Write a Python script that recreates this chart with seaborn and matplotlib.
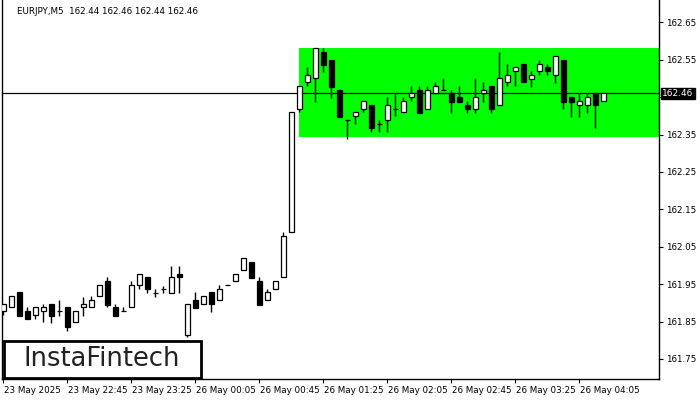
import numpy as np
import pandas as pd
import seaborn as sns
import matplotlib
matplotlib.use("Agg")
import matplotlib.pyplot as plt
from matplotlib.patches import Rectangle
import matplotlib.transforms as mtransforms

# ---------------- data ----------------
opens = [161.878, 161.888, 161.929, 161.879, 161.868, 161.878, 161.897, 161.878, 161.888, 161.848,
         161.888, 161.888, 161.918, 161.959, 161.888, 161.878, 161.888, 161.947, 161.968, 161.927,
         161.937, 161.927, 161.977, 161.815, 161.908, 161.896, 161.928, 161.907, 161.947, 161.958,
         161.988, 162.009, 161.959, 161.907, 161.937, 161.968, 162.089, 162.417, 162.490, 162.500,
         162.571, 162.549, 162.469, 162.388, 162.399, 162.417, 162.428, 162.377, 162.388, 162.417,
         162.409, 162.450, 162.469, 162.417, 162.460, 162.469, 162.460, 162.450, 162.428, 162.417,
         162.460, 162.480, 162.428, 162.490, 162.519, 162.539, 162.499, 162.519, 162.530, 162.508,
         162.549, 162.450, 162.428, 162.428, 162.460, 162.440]
highs = [161.896, 161.918, 161.929, 161.888, 161.888, 161.897, 161.897, 161.908, 161.888, 161.878,
         161.917, 161.918, 161.947, 161.968, 161.897, 161.888, 161.958, 161.976, 161.968, 161.936,
         161.945, 161.999, 161.999, 161.896, 161.929, 161.918, 161.928, 161.948, 161.948, 161.976,
         162.019, 162.009, 161.968, 161.937, 161.958, 162.089, 162.409, 162.479, 162.530, 162.581,
         162.581, 162.549, 162.469, 162.388, 162.409, 162.439, 162.428, 162.388, 162.450, 162.460,
         162.450, 162.480, 162.480, 162.480, 162.490, 162.501, 162.469, 162.480, 162.439, 162.501,
         162.490, 162.480, 162.571, 162.539, 162.530, 162.539, 162.519, 162.549, 162.539, 162.560,
         162.549, 162.450, 162.460, 162.460, 162.460, 162.460]
lows = [161.868, 161.888, 161.866, 161.858, 161.858, 161.849, 161.847, 161.866, 161.826, 161.848,
        161.866, 161.888, 161.918, 161.888, 161.866, 161.878, 161.888, 161.936, 161.927, 161.917,
        161.927, 161.927, 161.927, 161.808, 161.887, 161.896, 161.876, 161.907, 161.947, 161.958,
        161.988, 161.967, 161.895, 161.907, 161.937, 161.968, 162.089, 162.409, 162.479, 162.438,
        162.518, 162.448, 162.398, 162.339, 162.377, 162.409, 162.358, 162.358, 162.358, 162.399,
        162.409, 162.439, 162.408, 162.417, 162.460, 162.469, 162.408, 162.438, 162.408, 162.408,
        162.438, 162.408, 162.428, 162.480, 162.480, 162.490, 162.478, 162.508, 162.508, 162.489,
        162.417, 162.398, 162.398, 162.408, 162.368, 162.440]
closes = [161.896, 161.918, 161.866, 161.858, 161.888, 161.888, 161.866, 161.878, 161.836, 161.878,
          161.896, 161.908, 161.947, 161.895, 161.866, 161.878, 161.947, 161.976, 161.936, 161.927,
          161.937, 161.968, 161.968, 161.896, 161.887, 161.918, 161.896, 161.937, 161.948, 161.976,
          162.019, 161.967, 161.895, 161.928, 161.958, 162.078, 162.409, 162.479, 162.508, 162.581,
          162.537, 162.478, 162.398, 162.388, 162.409, 162.439, 162.368, 162.377, 162.428, 162.417,
          162.439, 162.460, 162.408, 162.469, 162.480, 162.469, 162.438, 162.438, 162.417, 162.450,
          162.469, 162.417, 162.501, 162.508, 162.530, 162.490, 162.508, 162.539, 162.519, 162.560,
          162.438, 162.438, 162.439, 162.450, 162.428, 162.460]

tick_labels = ["23 May 2025", "23 May 22:45", "23 May 23:25", "26 May 00:05", "26 May 00:45",
               "26 May 01:25", "26 May 02:05", "26 May 02:45", "26 May 03:25", "26 May 04:05"]
price_ticks = [161.75, 161.85, 161.95, 162.05, 162.15, 162.25, 162.35, 162.45, 162.55, 162.65]
zone_low, zone_high = 162.344, 162.581
zone_start = 37
last_price = 162.46
header = "EURJPY,M5  162.44 162.46 162.44 162.46"

# ---------------- plot ----------------
sns.set_theme(style="white")
plt.rcParams['font.family'] = ['DejaVu Sans']

df = pd.DataFrame({"o": opens, "h": highs, "l": lows, "c": closes})
df["i"] = np.arange(len(df))

W, H = 700, 400
fig = plt.figure(figsize=(7, 4), dpi=100)
fig.patch.set_facecolor("white")
ax = fig.add_axes([2 / W, (H - 379) / H, 657 / W, 379 / H])
ax.set_facecolor("white")

ax.set_xlim(-0.16, 81.96)
ax.set_ylim(161.6965, 162.7096)

# green zone
ax.add_patch(Rectangle((zone_start - 0.02, zone_low), 100, zone_high - zone_low,
                       facecolor="#00ff00", edgecolor="none", zorder=1))
# current price line
ax.axhline(last_price, color="black", lw=0.9, zorder=2)

# wicks
ax.vlines(df["i"], df["l"], df["h"], color="black", lw=1.0, zorder=3)
# bodies
bw = 0.62
for _, r in df.iterrows():
    bottom = min(r.o, r.c)
    height = max(abs(r.c - r.o), 0.0004)
    fc = "white" if r.c > r.o else "black"
    ax.add_patch(Rectangle((r.i - bw / 2, bottom), bw, height, facecolor=fc,
                           edgecolor="black", lw=0.9, zorder=4))

# axes styling
ax.spines["top"].set_visible(False)
for s in ["left", "right", "bottom"]:
    ax.spines[s].set_color("black")
    ax.spines[s].set_linewidth(1.0)

ax.yaxis.tick_right()
ax.set_yticks(price_ticks)
# the 162.45 label sits under the current-price box, so it is left blank
ax.set_yticklabels(["" if abs(p - 162.45) < 1e-9 else f"{p:.2f}" for p in price_ticks])
ax.tick_params(axis="y", which="both", right=True, left=False, length=3, width=0.8,
               direction="out", pad=2, labelsize=6.3, colors="black")

xt = np.arange(0, len(tick_labels) * 8, 8)
ax.set_xticks(xt)
ax.set_xticklabels(tick_labels, ha="left")
ax.tick_params(axis="x", which="both", bottom=True, length=3, width=0.8,
               direction="out", pad=2, labelsize=6.3, colors="black")
offset = mtransforms.ScaledTranslation(1 / 100, 0, fig.dpi_scale_trans)
for lab in ax.get_xticklabels():
    lab.set_horizontalalignment("left")
    lab.set_transform(lab.get_transform() + offset)
ax.grid(False)

# price label box on the right
trans = mtransforms.blended_transform_factory(fig.transFigure, ax.transData)
ax.text(662 / W, last_price, "162.46", transform=trans, color="white", fontsize=6.5,
        va="center", ha="left", zorder=10, clip_on=False,
        bbox=dict(boxstyle="square,pad=0.15", facecolor="black", edgecolor="black"))

# header
fig.text(17 / W, 1 - 11 / H, header, fontsize=6.3, color="black", va="center", ha="left")

# logo
fig.patches.append(Rectangle((4 / W, (H - 378) / H), 197 / W, 37 / H, transform=fig.transFigure,
                             facecolor="white", edgecolor="black", lw=2.0, zorder=20))
fig.text(102 / W, 1 - 359 / H, "InstaFintech", fontsize=18.5, color="#222222",
         ha="center", va="center", zorder=21)

fig.savefig("out.png", dpi=100, facecolor="white")
